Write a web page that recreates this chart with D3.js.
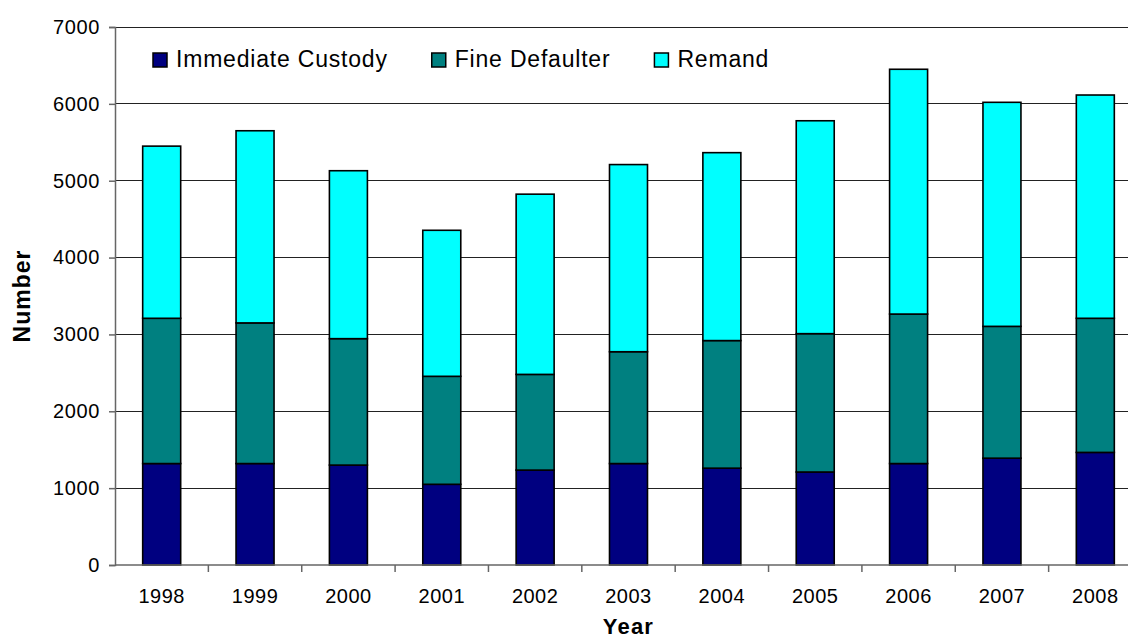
<!DOCTYPE html>
<html>
<head>
<meta charset="utf-8">
<script src="https://cdn.jsdelivr.net/npm/d3@7"></script>
<style>
  html, body { margin: 0; padding: 0; background: #fff; }
  svg { display: block; font-family: "Liberation Sans", Arial, sans-serif; }
</style>
</head>
<body>
<svg id="chart" width="1128" height="639"></svg>
<script>
// ---- data ----
const years = ["1998","1999","2000","2001","2002","2003","2004","2005","2006","2007","2008"];
const immediateCustody = [1320,1320,1300,1050,1235,1320,1260,1210,1320,1390,1465];
const fineDefaulter    = [1890,1830,1645,1405,1245,1455,1660,1800,1945,1715,1745];
const remand           = [2240,2500,2185,1900,2345,2435,2445,2770,3185,2915,2905];
const seriesNames  = ["Immediate Custody","Fine Defaulter","Remand"];
const seriesColors = ["#000080","#008080","#00FFFF"];
const yTicks = [0,1000,2000,3000,4000,5000,6000,7000];

(function () {
const rows = years.map((yr, i) => ({
  year: yr,
  "Immediate Custody": immediateCustody[i],
  "Fine Defaulter": fineDefaulter[i],
  "Remand": remand[i]
}));

const svg = d3.select("#chart");
const mLeft = 115, mRight = 1142, mTop = 27, mBottom = 565;

const x = d3.scaleBand().domain(years).range([mLeft, mRight])
  .paddingInner(0.593).paddingOuter(0.2965);
const y = d3.scaleLinear().domain([0, 7000]).range([mBottom, mTop]);

// gridlines
svg.append("g")
  .selectAll("line").data(yTicks.filter(d => d > 0)).join("line")
  .attr("x1", mLeft).attr("x2", mRight)
  .attr("y1", d => y(d)).attr("y2", d => y(d))
  .attr("stroke", "#222").attr("stroke-width", 1)
  .attr("shape-rendering", "crispEdges");

// stacked bars
const stacked = d3.stack().keys(seriesNames)(rows);
const color = d3.scaleOrdinal().domain(seriesNames).range(seriesColors);
svg.append("g").selectAll("g").data(stacked).join("g")
  .attr("fill", d => color(d.key))
  .selectAll("rect").data(d => d).join("rect")
  .attr("x", d => x(d.data.year))
  .attr("width", x.bandwidth())
  .attr("y", d => y(d[1]))
  .attr("height", d => y(d[0]) - y(d[1]))
  .attr("stroke", "#000").attr("stroke-width", 1.6);

// y axis
const yAxis = svg.append("g").attr("transform", `translate(${mLeft},0)`)
  .call(d3.axisLeft(y).tickValues(yTicks).tickSize(6).tickPadding(9).tickFormat(d3.format("d")));
yAxis.select(".domain").attr("stroke", "#666").attr("stroke-width", 1.5);
yAxis.selectAll(".tick line").attr("stroke", "#666").attr("stroke-width", 1.5);
yAxis.selectAll("text").attr("font-size", 20).attr("fill", "#000")
  .attr("letter-spacing", 0.6).attr("font-family", "Liberation Sans, Arial, sans-serif");

// x axis with ticks between categories
const xAxisG = svg.append("g").attr("transform", `translate(0,${mBottom})`);
xAxisG.append("line").attr("x1", mLeft).attr("x2", mRight).attr("y1", 0).attr("y2", 0)
  .attr("stroke", "#666").attr("stroke-width", 1.5);
const boundaries = years.map(d => x(d) - x.step() * x.paddingInner() / 2 + x.step());
xAxisG.selectAll("line.tk").data(boundaries).join("line").attr("class", "tk")
  .attr("x1", d => d).attr("x2", d => d).attr("y1", 0).attr("y2", 7)
  .attr("stroke", "#666").attr("stroke-width", 1.5);
xAxisG.selectAll("text").data(years).join("text")
  .attr("x", d => x(d) + x.bandwidth() / 2)
  .attr("y", 38)
  .attr("text-anchor", "middle")
  .attr("font-size", 20).attr("letter-spacing", 0.5)
  .text(d => d);

// axis titles
svg.append("text")
  .attr("x", (mLeft + mRight) / 2).attr("y", 634)
  .attr("text-anchor", "middle").attr("font-weight", "bold")
  .attr("font-size", 22).attr("letter-spacing", 1.2)
  .text("Year");
svg.append("text")
  .attr("transform", `translate(30,${(mTop + mBottom) / 2}) rotate(-90)`)
  .attr("text-anchor", "middle").attr("font-weight", "bold")
  .attr("font-size", 23).attr("letter-spacing", 1)
  .text("Number");

// legend
const legend = svg.append("g");
let lx = 153;
seriesNames.forEach((name, i) => {
  const g = legend.append("g");
  g.append("rect").attr("x", lx).attr("y", 53).attr("width", 14).attr("height", 14)
    .attr("fill", seriesColors[i]).attr("stroke", "#000").attr("stroke-width", 1.5);
  const t = g.append("text").attr("x", lx + 23).attr("y", 67)
    .attr("font-size", 23).attr("letter-spacing", 0.8).text(name);
  lx = lx + 23 + t.node().getComputedTextLength() + 44;
});
})();
</script>
</body>
</html>
